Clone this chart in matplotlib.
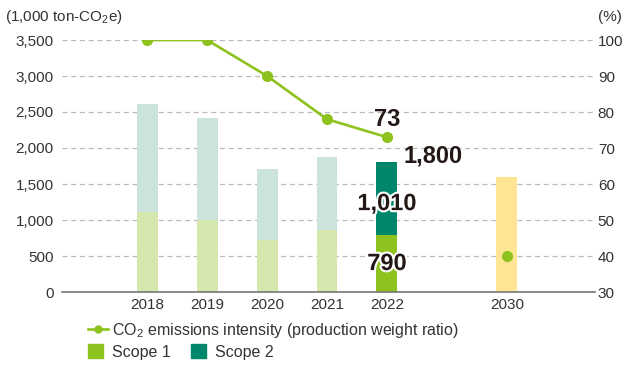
import numpy as np
import matplotlib
matplotlib.use("Agg")
import matplotlib.pyplot as plt
import matplotlib.patheffects as pe
from matplotlib.patches import Patch
from matplotlib.lines import Line2D

plt.rcParams['font.family'] = ['Liberation Sans', 'DejaVu Sans']
plt.rcParams['mathtext.fontset'] = 'custom'
plt.rcParams['mathtext.rm'] = 'Liberation Sans'
plt.rcParams['mathtext.it'] = 'Liberation Sans'

# emissions data (1,000 ton-CO2e) and intensity (%)
years = ["2018", "2019", "2020", "2021", "2022", "2030"]
xpos = [0, 1, 2, 3, 4, 6]
scope1 = [1110, 1000, 720, 860, 790]
total = [2610, 2420, 1710, 1880, 1800]
target_2030 = 1600
intensity = [100, 100, 90, 78, 73]
intensity_2030 = 40

c_s1 = "#8dc21f"
c_s2 = "#00876b"
c_s1_old = "#d6e7ae"
c_s2_old = "#cce3dd"
c_2030 = "#fde593"
c_txt = "#333333"
c_num = "#231815"

scope2 = [t - s for t, s in zip(total, scope1)]

fig = plt.figure(figsize=(6.27, 3.65), dpi=100)
ax = fig.add_axes([62/627, 73/365, 533/627, 252/365])
ax2 = ax.twinx()

w = 0.35
for i in range(5):
    last = i == 4
    ax.bar(xpos[i], scope1[i], w, color=c_s1 if last else c_s1_old, zorder=2)
    ax.bar(xpos[i], scope2[i], w, bottom=scope1[i],
           color=c_s2 if last else c_s2_old, zorder=2)
ax.bar(xpos[5], target_2030, w, color=c_2030, zorder=2)

ax.set_xlim(-1.42, 7.47)
ax.set_ylim(0, 3500)
ax.set_yticks(np.arange(0, 3501, 500))
ax.set_yticklabels([f"{v:,}" for v in range(0, 3501, 500)])
ax.set_xticks(xpos)
ax.set_xticklabels(years)
ax.tick_params(axis='both', length=0, labelsize=11, colors=c_txt)
ax.tick_params(axis='y', pad=6)
ax.tick_params(axis='x', pad=4)
for v in range(500, 3501, 500):
    ax.axhline(v, color="#bbbbbb", lw=0.9, ls=(0, (4, 3)), zorder=1)
for s in ['left', 'right', 'top']:
    ax.spines[s].set_visible(False)
ax.spines['bottom'].set_color("#777777")
ax.spines['bottom'].set_linewidth(1.2)
ax.spines['bottom'].set_zorder(3)

ax2.plot(xpos[:5], intensity, color=c_s1, lw=1.9, marker='o', ms=7, zorder=4)
ax2.plot(xpos[5], intensity_2030, color=c_s1, marker='o', ms=7, zorder=4)
ax2.set_ylim(30, 100)
ax2.set_yticks(np.arange(30, 101, 10))
ax2.tick_params(axis='y', length=0, labelsize=11, colors=c_txt, pad=2)
for s in ['left', 'right', 'top', 'bottom']:
    ax2.spines[s].set_visible(False)

# value labels for 2022
outline = [pe.withStroke(linewidth=3, foreground="white")]
ax2.annotate(f"{intensity[4]}", xy=(xpos[4], intensity[4]), xytext=(0, 8),
             textcoords='offset points', ha='center', va='baseline',
             fontsize=17, fontweight='bold', color=c_num)
ax.annotate(f"{total[4]:,}", xy=(xpos[4] + w/2, total[4]), xytext=(4, 0),
            textcoords='offset points', ha='left', va='baseline',
            fontsize=17, fontweight='bold', color=c_num, zorder=5)
ax.annotate(f"{scope2[4]:,}", xy=(xpos[4], scope1[4] + scope2[4]/2),
            xytext=(0, -3.5), textcoords='offset points', ha='center',
            va='center', fontsize=17, fontweight='bold', color=c_num,
            path_effects=outline, zorder=5)
ax.text(xpos[4], scope1[4]/2, f"{scope1[4]:,}", ha='center', va='center',
        fontsize=17, fontweight='bold', color=c_num,
        path_effects=outline, zorder=5)

fig.text(5/627, 1 - 17/365, "(1,000 ton-CO$_2$e)", ha='left', va='center',
         fontsize=11, color=c_txt)
fig.text(622/627, 1 - 17/365, "(%)", ha='right', va='center',
         fontsize=11, color=c_txt)

# legend
h_line = Line2D([], [], color=c_s1, lw=1.9, marker='o', ms=5)
leg1 = fig.legend([h_line], ["CO$_2$ emissions intensity (production weight ratio)"],
                  loc='center left', bbox_to_anchor=(88/627, 1 - 330/365),
                  frameon=False, fontsize=11.5, handlelength=1.25,
                  handletextpad=0.25, labelcolor=c_txt, borderpad=0,
                  borderaxespad=0)
leg2 = fig.legend([Patch(color=c_s1), Patch(color=c_s2)], ["Scope 1", "Scope 2"],
                  loc='center left', bbox_to_anchor=(88/627, 1 - 352/365),
                  frameon=False, fontsize=11.5, ncol=2, handlelength=0.94,
                  handleheight=0.94, handletextpad=0.56, columnspacing=1.3,
                  labelcolor=c_txt, borderpad=0, borderaxespad=0)

fig.savefig("out.png", dpi=100)
